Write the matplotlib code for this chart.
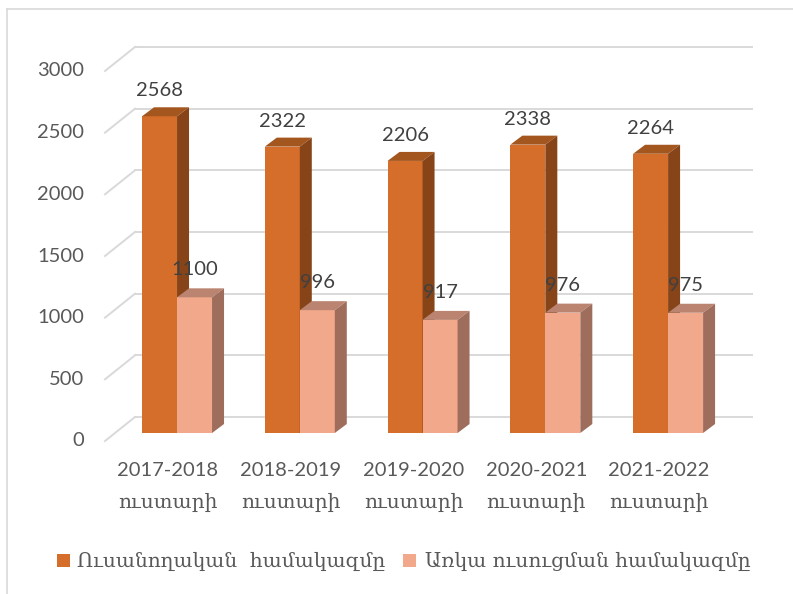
import matplotlib
matplotlib.use('Agg')
import matplotlib.pyplot as plt
import matplotlib.transforms as mtransforms
from matplotlib.patches import Polygon, Rectangle
from matplotlib.lines import Line2D

# data
years = ['2017-2018', '2018-2019', '2019-2020', '2020-2021', '2021-2022']
year_word = 'ուստարի'
total_students = [2568, 2322, 2206, 2338, 2264]
fulltime_students = [1100, 996, 917, 976, 975]
series_names = ['Ուսանողական  համակազմը', 'Առկա ուսուցման համակազմը']
y_ticks = [0, 500, 1000, 1500, 2000, 2500, 3000]

# colours: front / top / side faces
orange = ('#D46E2A', '#A4561F', '#874419')
salmon = ('#F2A88A', '#BA8470', '#9E6D5B')
grid_col = '#D9D9D9'
text_col = '#595959'
label_col = '#404040'

sans = ['Lato', 'DejaVu Sans']
serif = ['DejaVu Serif', 'DejaVu Sans']

W, H = 793, 594
fig = plt.figure(figsize=(W / 100, H / 100), dpi=100)
# axes = front plane of the bars
ax = fig.add_axes([117 / W, 161 / H, 617 / W, 370 / H])
ax.set_xlim(-0.489, 4.537)
ax.set_ylim(0, 3000)
ax.axis('off')

# pixels per data unit, from the axes transform
p0 = ax.transData.transform((0, 0))
p1 = ax.transData.transform((1, 1000))
ppx = p1[0] - p0[0]
ppy = (p1[1] - p0[1]) / 1000.0

def dx(px):
    return px / ppx

def dy(px):
    return px / ppy

xmin, xmax = ax.get_xlim()

# back wall gridlines + floor diagonals
for v in y_ticks:
    bx0, by = xmin + dx(18), v + dy(16)
    bx1 = xmax + dx(18)
    fx, fy = xmin - dx(12), v - dy(8)
    ax.plot([bx0, bx1], [by, by], color=grid_col, lw=1.4, clip_on=False, zorder=1)
    ax.plot([fx, bx0], [fy, by], color=grid_col, lw=1.4, clip_on=False, zorder=1)
    ax.text(xmin - dx(33), fy, str(v), ha='right', va='center',
            fontsize=14.5, color=text_col, family=sans)

bw = dx(35)
ddx, ddy = dx(12), dy(9)

def bar3d(x0, v, cols, z):
    ax.add_patch(Rectangle((x0, 0), bw, v, facecolor=cols[0], edgecolor='none',
                           clip_on=False, zorder=z))
    top = [(x0, v), (x0 + bw, v), (x0 + bw + ddx, v + ddy), (x0 + ddx, v + ddy)]
    side = [(x0 + bw, 0), (x0 + bw + ddx, ddy), (x0 + bw + ddx, v + ddy), (x0 + bw, v)]
    ax.add_patch(Polygon(top, closed=True, facecolor=cols[1], edgecolor='none',
                         clip_on=False, zorder=z))
    ax.add_patch(Polygon(side, closed=True, facecolor=cols[2], edgecolor='none',
                         clip_on=False, zorder=z))

for i in range(len(years)):
    bar3d(i - bw, total_students[i], orange, 3)
    bar3d(i, fulltime_students[i], salmon, 4)
    ax.text(i - bw / 2, total_students[i] + dy(17), str(total_students[i]),
            ha='center', va='bottom', fontsize=14.5, color=label_col, family=sans, zorder=6)
    ax.text(i + bw / 2, fulltime_students[i] + dy(19), str(fulltime_students[i]),
            ha='center', va='bottom', fontsize=14.5, color=label_col, family=sans, zorder=6)
    ax.text(i - dx(9), -dy(37), years[i], ha='center', va='center',
            fontsize=14.5, color=text_col, family=sans)
    ax.text(i - dx(9), -dy(69), year_word, ha='center', va='center',
            fontsize=14.5, color=text_col, family=serif)

# legend, laid out like the original
leg_sq = [57, 403]
leg_tx = [77, 425]
for sq, tx, cols, name in zip(leg_sq, leg_tx, [orange, salmon], series_names):
    fig.patches.append(Rectangle((sq / W, (H - 567) / H), 13 / W, 13 / H,
                                 facecolor=cols[0], edgecolor='none',
                                 transform=fig.transFigure))
    fig.text(tx / W, (H - 561) / H, name, ha='left', va='center',
             fontsize=14.5, color=text_col, family=serif)

# chart area border (cropped on right and bottom)
fig.add_artist(Line2D([6.5 / W, 6.5 / W], [0, (H - 9) / H], color=grid_col, lw=1.2))
fig.add_artist(Line2D([6.5 / W, 1], [(H - 9) / H, (H - 9) / H], color=grid_col, lw=1.2))

fig.savefig('out.png', dpi=100, facecolor='white')
